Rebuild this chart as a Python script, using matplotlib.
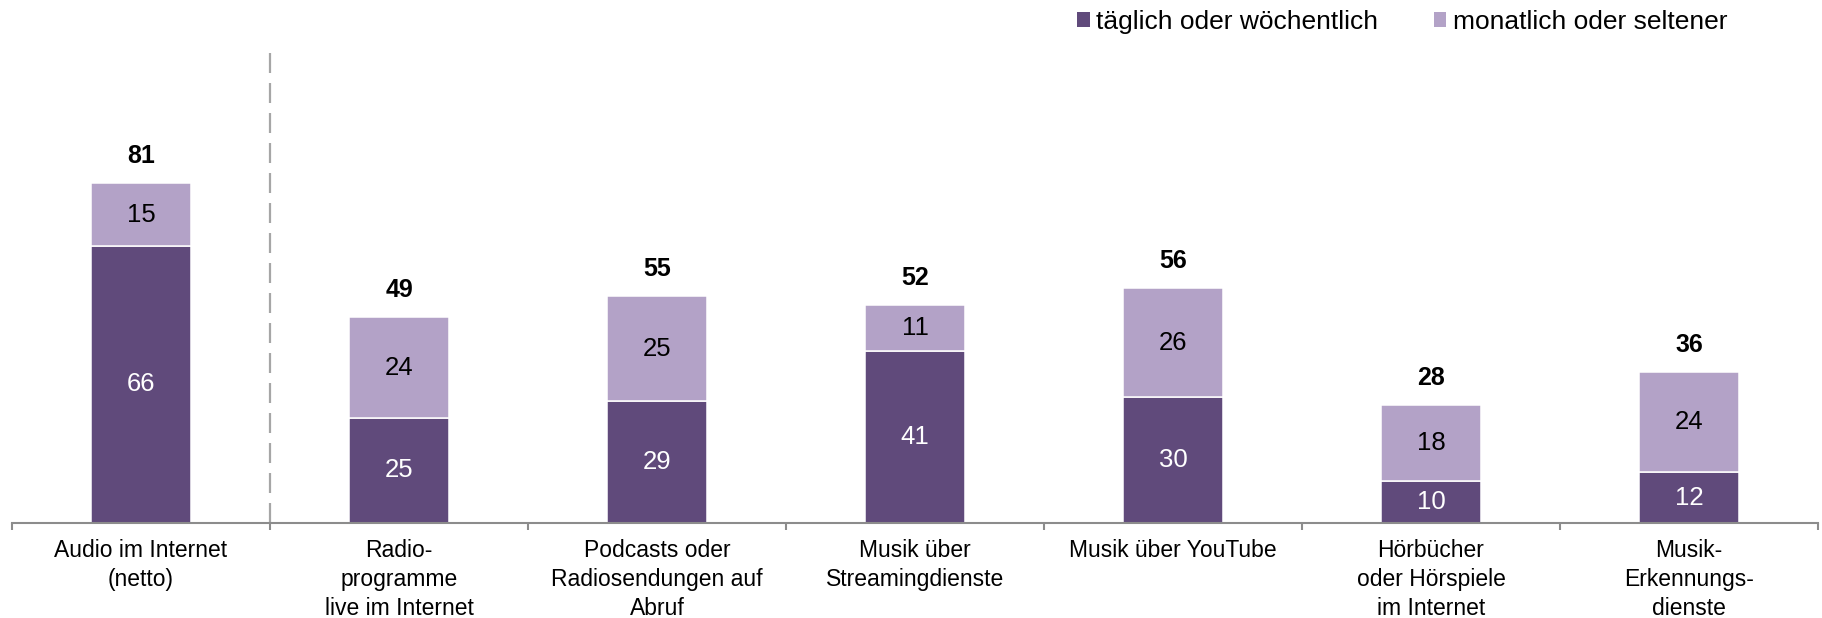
# -*- coding: utf-8 -*-
from matplotlib import pyplot as plt
from matplotlib.patches import Patch
import numpy as np

categories = [
    "Audio im Internet\n(netto)",
    "Radio-\nprogramme\nlive im Internet",
    "Podcasts oder\nRadiosendungen auf\nAbruf",
    "Musik über\nStreamingdienste",
    "Musik über YouTube",
    "Hörbücher\noder Hörspiele\nim Internet",
    "Musik-\nErkennungs-\ndienste",
]
weekly = [66, 25, 29, 41, 30, 10, 12]
monthly = [15, 24, 25, 11, 26, 18, 24]
totals = [81, 49, 55, 52, 56, 28, 36]
series_names = ["täglich oder wöchentlich", "monatlich oder seltener"]

DARK = "#604a7b"
LIGHT = "#b3a2c7"
GREY = "#8c8c8c"

plt.rcParams["font.family"] = ["Liberation Sans", "DejaVu Sans"]

W, H = 1822, 618
fig = plt.figure(figsize=(W / 100, H / 100), dpi=100)
ax = fig.add_axes([12 / W, 95.3 / H, 1806 / W, 477.7 / H])

x = np.arange(len(categories))
width = 0.39
ax.bar(x, weekly, width, color=DARK, edgecolor="white", linewidth=1.1,
       label=series_names[0])
ax.bar(x, monthly, width, bottom=weekly, color=LIGHT, edgecolor="white",
       linewidth=1.1, label=series_names[1])

for i in range(len(x)):
    ax.text(x[i], weekly[i] / 2, str(weekly[i]), ha="center", va="center",
            color="white", fontsize=18.5)
    ax.text(x[i], weekly[i] + monthly[i] / 2, str(monthly[i]), ha="center",
            va="center", color="black", fontsize=18.5)
    ax.annotate(str(totals[i]), (x[i], weekly[i] + monthly[i]),
                xytext=(0, 19.5), textcoords="offset points", ha="center",
                va="center", fontsize=18, fontweight="bold")

ax.set_xlim(-0.5, len(categories) - 0.5)
ax.set_ylim(0, 114)

# separator between net total and the single categories
ax.axvline(0.5, color="#a6a6a6", linewidth=1.6, linestyle=(0, (9, 4.5)))

for s in ["top", "left", "right"]:
    ax.spines[s].set_visible(False)
ax.spines["bottom"].set_color(GREY)
ax.spines["bottom"].set_linewidth(1.5)
ax.set_yticks([])

ax.set_xticks(x)
ax.set_xticklabels(categories, fontsize=16.5, linespacing=1.33)
ax.tick_params(axis="x", which="major", length=0, pad=12)
ax.set_xticks(np.arange(len(categories) + 1) - 0.5, minor=True)
ax.tick_params(axis="x", which="minor", length=5, width=1.5, color=GREY,
               direction="out")

handles = [Patch(facecolor=DARK), Patch(facecolor=LIGHT)]
fig.legend(handles, series_names, loc="center left",
           bbox_to_anchor=(1077 / W, 1 - 22 / H), ncol=2, frameon=False,
           fontsize=19, handlelength=0.48, handleheight=0.48,
           handletextpad=0.25, columnspacing=2.1, borderpad=0,
           borderaxespad=0)

fig.savefig("out.png", dpi=100)
